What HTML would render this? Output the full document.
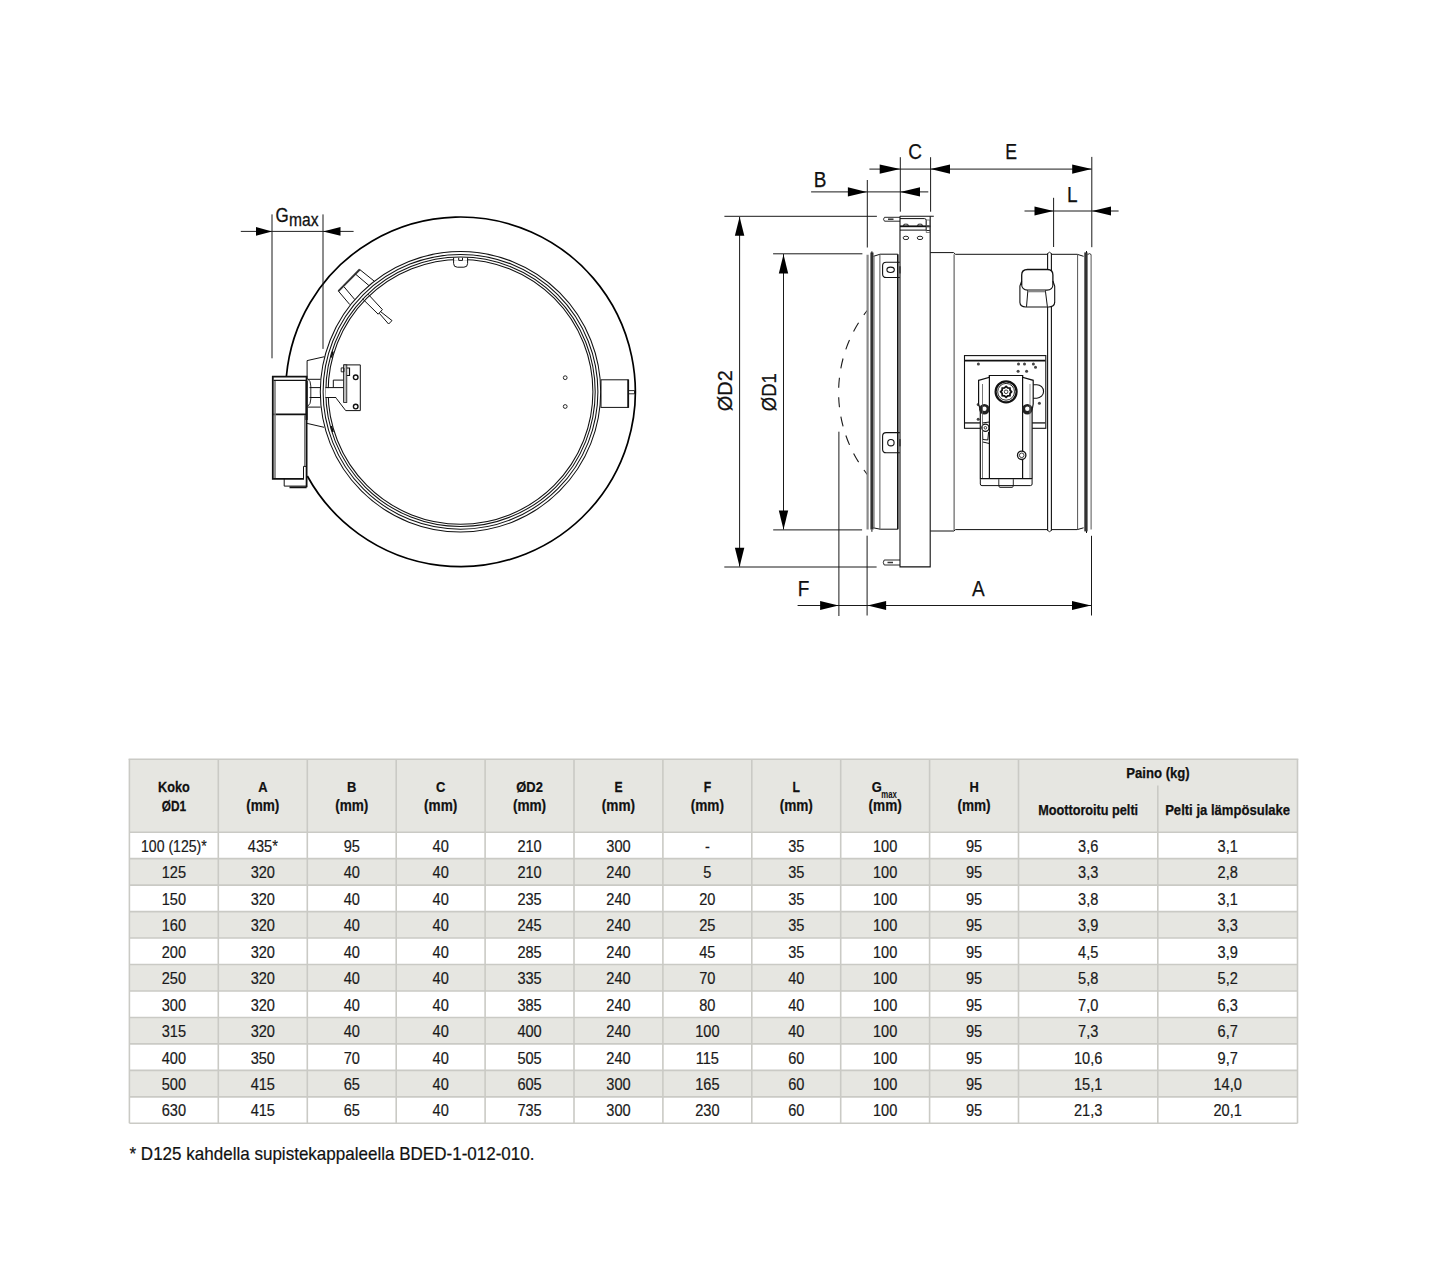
<!DOCTYPE html><html><head><meta charset="utf-8"><style>html,body{margin:0;padding:0;background:#fff;width:1440px;height:1269px;overflow:hidden}svg{display:block}text{font-family:"Liberation Sans",sans-serif}</style></head><body>
<svg width="1440" height="1269" viewBox="0 0 1440 1269">
<rect x="129.4" y="759.2" width="1168.1" height="73.0" fill="#e6e6e1"/>
<rect x="129.4" y="858.66" width="1168.1" height="26.46" fill="#e6e6e1"/>
<rect x="129.4" y="911.59" width="1168.1" height="26.46" fill="#e6e6e1"/>
<rect x="129.4" y="964.52" width="1168.1" height="26.46" fill="#e6e6e1"/>
<rect x="129.4" y="1017.45" width="1168.1" height="26.46" fill="#e6e6e1"/>
<rect x="129.4" y="1070.37" width="1168.1" height="26.46" fill="#e6e6e1"/>
<line x1="129.4" y1="832.2" x2="1297.5" y2="832.2" stroke="#cacac5" stroke-width="1.6"/>
<line x1="129.4" y1="858.66" x2="1297.5" y2="858.66" stroke="#cacac5" stroke-width="1.6"/>
<line x1="129.4" y1="885.13" x2="1297.5" y2="885.13" stroke="#cacac5" stroke-width="1.6"/>
<line x1="129.4" y1="911.59" x2="1297.5" y2="911.59" stroke="#cacac5" stroke-width="1.6"/>
<line x1="129.4" y1="938.05" x2="1297.5" y2="938.05" stroke="#cacac5" stroke-width="1.6"/>
<line x1="129.4" y1="964.52" x2="1297.5" y2="964.52" stroke="#cacac5" stroke-width="1.6"/>
<line x1="129.4" y1="990.98" x2="1297.5" y2="990.98" stroke="#cacac5" stroke-width="1.6"/>
<line x1="129.4" y1="1017.45" x2="1297.5" y2="1017.45" stroke="#cacac5" stroke-width="1.6"/>
<line x1="129.4" y1="1043.91" x2="1297.5" y2="1043.91" stroke="#cacac5" stroke-width="1.6"/>
<line x1="129.4" y1="1070.37" x2="1297.5" y2="1070.37" stroke="#cacac5" stroke-width="1.6"/>
<line x1="129.4" y1="1096.84" x2="1297.5" y2="1096.84" stroke="#cacac5" stroke-width="1.6"/>
<line x1="129.4" y1="1123.3" x2="1297.5" y2="1123.3" stroke="#cacac5" stroke-width="1.6"/>
<line x1="128.6" y1="759.2" x2="1298.3" y2="759.2" stroke="#cacac5" stroke-width="1.6"/>
<line x1="129.4" y1="759.2" x2="129.4" y2="1123.3" stroke="#cacac5" stroke-width="1.6"/>
<line x1="218.3" y1="759.2" x2="218.3" y2="1123.3" stroke="#cacac5" stroke-width="1.6"/>
<line x1="307.3" y1="759.2" x2="307.3" y2="1123.3" stroke="#cacac5" stroke-width="1.6"/>
<line x1="396.2" y1="759.2" x2="396.2" y2="1123.3" stroke="#cacac5" stroke-width="1.6"/>
<line x1="485.1" y1="759.2" x2="485.1" y2="1123.3" stroke="#cacac5" stroke-width="1.6"/>
<line x1="574.0" y1="759.2" x2="574.0" y2="1123.3" stroke="#cacac5" stroke-width="1.6"/>
<line x1="662.9" y1="759.2" x2="662.9" y2="1123.3" stroke="#cacac5" stroke-width="1.6"/>
<line x1="751.8" y1="759.2" x2="751.8" y2="1123.3" stroke="#cacac5" stroke-width="1.6"/>
<line x1="840.7" y1="759.2" x2="840.7" y2="1123.3" stroke="#cacac5" stroke-width="1.6"/>
<line x1="929.6" y1="759.2" x2="929.6" y2="1123.3" stroke="#cacac5" stroke-width="1.6"/>
<line x1="1018.5" y1="759.2" x2="1018.5" y2="1123.3" stroke="#cacac5" stroke-width="1.6"/>
<line x1="1157.8" y1="785.5" x2="1157.8" y2="1123.3" stroke="#cacac5" stroke-width="1.6"/>
<line x1="1297.5" y1="759.2" x2="1297.5" y2="1123.3" stroke="#cacac5" stroke-width="1.6"/>
<text transform="translate(173.85,792) scale(0.82,1)" x="0" y="0" font-size="15.5" text-anchor="middle" font-weight="bold" fill="#111" stroke="#111" stroke-width="0.25">Koko</text>
<text transform="translate(173.85,810.6) scale(0.78,1)" x="0" y="0" font-size="15.2" text-anchor="middle" font-weight="bold" fill="#111" stroke="#111" stroke-width="0.25">ØD1</text>
<text transform="translate(262.80,792) scale(0.85,1)" x="0" y="0" font-size="15.2" text-anchor="middle" font-weight="bold" fill="#111" stroke="#111" stroke-width="0.25">A</text>
<text transform="translate(262.80,810.6) scale(0.85,1)" x="0" y="0" font-size="16" text-anchor="middle" font-weight="bold" fill="#111" stroke="#111" stroke-width="0.25">(mm)</text>
<text transform="translate(351.75,792) scale(0.85,1)" x="0" y="0" font-size="15.2" text-anchor="middle" font-weight="bold" fill="#111" stroke="#111" stroke-width="0.25">B</text>
<text transform="translate(351.75,810.6) scale(0.85,1)" x="0" y="0" font-size="16" text-anchor="middle" font-weight="bold" fill="#111" stroke="#111" stroke-width="0.25">(mm)</text>
<text transform="translate(440.65,792) scale(0.85,1)" x="0" y="0" font-size="15.2" text-anchor="middle" font-weight="bold" fill="#111" stroke="#111" stroke-width="0.25">C</text>
<text transform="translate(440.65,810.6) scale(0.85,1)" x="0" y="0" font-size="16" text-anchor="middle" font-weight="bold" fill="#111" stroke="#111" stroke-width="0.25">(mm)</text>
<text transform="translate(529.55,792) scale(0.85,1)" x="0" y="0" font-size="15.2" text-anchor="middle" font-weight="bold" fill="#111" stroke="#111" stroke-width="0.25">ØD2</text>
<text transform="translate(529.55,810.6) scale(0.85,1)" x="0" y="0" font-size="16" text-anchor="middle" font-weight="bold" fill="#111" stroke="#111" stroke-width="0.25">(mm)</text>
<text transform="translate(618.45,792) scale(0.8,1)" x="0" y="0" font-size="15.2" text-anchor="middle" font-weight="bold" fill="#111" stroke="#111" stroke-width="0.25">E</text>
<text transform="translate(618.45,810.6) scale(0.85,1)" x="0" y="0" font-size="16" text-anchor="middle" font-weight="bold" fill="#111" stroke="#111" stroke-width="0.25">(mm)</text>
<text transform="translate(707.35,792) scale(0.8,1)" x="0" y="0" font-size="15.2" text-anchor="middle" font-weight="bold" fill="#111" stroke="#111" stroke-width="0.25">F</text>
<text transform="translate(707.35,810.6) scale(0.85,1)" x="0" y="0" font-size="16" text-anchor="middle" font-weight="bold" fill="#111" stroke="#111" stroke-width="0.25">(mm)</text>
<text transform="translate(796.25,792) scale(0.8,1)" x="0" y="0" font-size="15.2" text-anchor="middle" font-weight="bold" fill="#111" stroke="#111" stroke-width="0.25">L</text>
<text transform="translate(796.25,810.6) scale(0.85,1)" x="0" y="0" font-size="16" text-anchor="middle" font-weight="bold" fill="#111" stroke="#111" stroke-width="0.25">(mm)</text>
<text transform="translate(871.85,792) scale(0.85,1)" x="0" y="0" font-size="15.2" font-weight="bold" fill="#111" stroke="#111" stroke-width="0.25">G</text>
<text x="881.25" y="797.6" font-size="10.5" font-weight="bold" fill="#111" textLength="15.6" lengthAdjust="spacingAndGlyphs">max</text>
<text transform="translate(885.15,810.6) scale(0.85,1)" x="0" y="0" font-size="16" text-anchor="middle" font-weight="bold" fill="#111" stroke="#111" stroke-width="0.25">(mm)</text>
<text transform="translate(974.05,792) scale(0.85,1)" x="0" y="0" font-size="15.2" text-anchor="middle" font-weight="bold" fill="#111" stroke="#111" stroke-width="0.25">H</text>
<text transform="translate(974.05,810.6) scale(0.85,1)" x="0" y="0" font-size="16" text-anchor="middle" font-weight="bold" fill="#111" stroke="#111" stroke-width="0.25">(mm)</text>
<text x="1158.0" y="777.6" font-size="15.5" text-anchor="middle" font-weight="bold" fill="#111" textLength="63.5" lengthAdjust="spacingAndGlyphs" stroke="#111" stroke-width="0.25">Paino (kg)</text>
<text x="1088.15" y="814.6" font-size="15.5" text-anchor="middle" font-weight="bold" fill="#111" textLength="100" lengthAdjust="spacingAndGlyphs" stroke="#111" stroke-width="0.25">Moottoroitu pelti</text>
<text x="1227.65" y="814.6" font-size="15.5" text-anchor="middle" font-weight="bold" fill="#111" textLength="125" lengthAdjust="spacingAndGlyphs" stroke="#111" stroke-width="0.25">Pelti ja lämpösulake</text>
<text transform="translate(173.85,851.8) scale(0.87,1)" x="0" y="0" font-size="16.2" text-anchor="middle" font-weight="normal" fill="#1a1a1a" stroke="#1a1a1a" stroke-width="0.2">100 (125)*</text>
<text transform="translate(262.80,851.8) scale(0.9,1)" x="0" y="0" font-size="16.2" text-anchor="middle" font-weight="normal" fill="#1a1a1a" stroke="#1a1a1a" stroke-width="0.2">435*</text>
<text transform="translate(351.75,851.8) scale(0.9,1)" x="0" y="0" font-size="16.2" text-anchor="middle" font-weight="normal" fill="#1a1a1a" stroke="#1a1a1a" stroke-width="0.2">95</text>
<text transform="translate(440.65,851.8) scale(0.9,1)" x="0" y="0" font-size="16.2" text-anchor="middle" font-weight="normal" fill="#1a1a1a" stroke="#1a1a1a" stroke-width="0.2">40</text>
<text transform="translate(529.55,851.8) scale(0.9,1)" x="0" y="0" font-size="16.2" text-anchor="middle" font-weight="normal" fill="#1a1a1a" stroke="#1a1a1a" stroke-width="0.2">210</text>
<text transform="translate(618.45,851.8) scale(0.9,1)" x="0" y="0" font-size="16.2" text-anchor="middle" font-weight="normal" fill="#1a1a1a" stroke="#1a1a1a" stroke-width="0.2">300</text>
<text transform="translate(707.35,851.8) scale(0.9,1)" x="0" y="0" font-size="16.2" text-anchor="middle" font-weight="normal" fill="#1a1a1a" stroke="#1a1a1a" stroke-width="0.2">-</text>
<text transform="translate(796.25,851.8) scale(0.9,1)" x="0" y="0" font-size="16.2" text-anchor="middle" font-weight="normal" fill="#1a1a1a" stroke="#1a1a1a" stroke-width="0.2">35</text>
<text transform="translate(885.15,851.8) scale(0.9,1)" x="0" y="0" font-size="16.2" text-anchor="middle" font-weight="normal" fill="#1a1a1a" stroke="#1a1a1a" stroke-width="0.2">100</text>
<text transform="translate(974.05,851.8) scale(0.9,1)" x="0" y="0" font-size="16.2" text-anchor="middle" font-weight="normal" fill="#1a1a1a" stroke="#1a1a1a" stroke-width="0.2">95</text>
<text transform="translate(1088.15,851.8) scale(0.9,1)" x="0" y="0" font-size="16.2" text-anchor="middle" font-weight="normal" fill="#1a1a1a" stroke="#1a1a1a" stroke-width="0.2">3,6</text>
<text transform="translate(1227.65,851.8) scale(0.9,1)" x="0" y="0" font-size="16.2" text-anchor="middle" font-weight="normal" fill="#1a1a1a" stroke="#1a1a1a" stroke-width="0.2">3,1</text>
<text transform="translate(173.85,878.26) scale(0.9,1)" x="0" y="0" font-size="16.2" text-anchor="middle" font-weight="normal" fill="#1a1a1a" stroke="#1a1a1a" stroke-width="0.2">125</text>
<text transform="translate(262.80,878.26) scale(0.9,1)" x="0" y="0" font-size="16.2" text-anchor="middle" font-weight="normal" fill="#1a1a1a" stroke="#1a1a1a" stroke-width="0.2">320</text>
<text transform="translate(351.75,878.26) scale(0.9,1)" x="0" y="0" font-size="16.2" text-anchor="middle" font-weight="normal" fill="#1a1a1a" stroke="#1a1a1a" stroke-width="0.2">40</text>
<text transform="translate(440.65,878.26) scale(0.9,1)" x="0" y="0" font-size="16.2" text-anchor="middle" font-weight="normal" fill="#1a1a1a" stroke="#1a1a1a" stroke-width="0.2">40</text>
<text transform="translate(529.55,878.26) scale(0.9,1)" x="0" y="0" font-size="16.2" text-anchor="middle" font-weight="normal" fill="#1a1a1a" stroke="#1a1a1a" stroke-width="0.2">210</text>
<text transform="translate(618.45,878.26) scale(0.9,1)" x="0" y="0" font-size="16.2" text-anchor="middle" font-weight="normal" fill="#1a1a1a" stroke="#1a1a1a" stroke-width="0.2">240</text>
<text transform="translate(707.35,878.26) scale(0.9,1)" x="0" y="0" font-size="16.2" text-anchor="middle" font-weight="normal" fill="#1a1a1a" stroke="#1a1a1a" stroke-width="0.2">5</text>
<text transform="translate(796.25,878.26) scale(0.9,1)" x="0" y="0" font-size="16.2" text-anchor="middle" font-weight="normal" fill="#1a1a1a" stroke="#1a1a1a" stroke-width="0.2">35</text>
<text transform="translate(885.15,878.26) scale(0.9,1)" x="0" y="0" font-size="16.2" text-anchor="middle" font-weight="normal" fill="#1a1a1a" stroke="#1a1a1a" stroke-width="0.2">100</text>
<text transform="translate(974.05,878.26) scale(0.9,1)" x="0" y="0" font-size="16.2" text-anchor="middle" font-weight="normal" fill="#1a1a1a" stroke="#1a1a1a" stroke-width="0.2">95</text>
<text transform="translate(1088.15,878.26) scale(0.9,1)" x="0" y="0" font-size="16.2" text-anchor="middle" font-weight="normal" fill="#1a1a1a" stroke="#1a1a1a" stroke-width="0.2">3,3</text>
<text transform="translate(1227.65,878.26) scale(0.9,1)" x="0" y="0" font-size="16.2" text-anchor="middle" font-weight="normal" fill="#1a1a1a" stroke="#1a1a1a" stroke-width="0.2">2,8</text>
<text transform="translate(173.85,904.73) scale(0.9,1)" x="0" y="0" font-size="16.2" text-anchor="middle" font-weight="normal" fill="#1a1a1a" stroke="#1a1a1a" stroke-width="0.2">150</text>
<text transform="translate(262.80,904.73) scale(0.9,1)" x="0" y="0" font-size="16.2" text-anchor="middle" font-weight="normal" fill="#1a1a1a" stroke="#1a1a1a" stroke-width="0.2">320</text>
<text transform="translate(351.75,904.73) scale(0.9,1)" x="0" y="0" font-size="16.2" text-anchor="middle" font-weight="normal" fill="#1a1a1a" stroke="#1a1a1a" stroke-width="0.2">40</text>
<text transform="translate(440.65,904.73) scale(0.9,1)" x="0" y="0" font-size="16.2" text-anchor="middle" font-weight="normal" fill="#1a1a1a" stroke="#1a1a1a" stroke-width="0.2">40</text>
<text transform="translate(529.55,904.73) scale(0.9,1)" x="0" y="0" font-size="16.2" text-anchor="middle" font-weight="normal" fill="#1a1a1a" stroke="#1a1a1a" stroke-width="0.2">235</text>
<text transform="translate(618.45,904.73) scale(0.9,1)" x="0" y="0" font-size="16.2" text-anchor="middle" font-weight="normal" fill="#1a1a1a" stroke="#1a1a1a" stroke-width="0.2">240</text>
<text transform="translate(707.35,904.73) scale(0.9,1)" x="0" y="0" font-size="16.2" text-anchor="middle" font-weight="normal" fill="#1a1a1a" stroke="#1a1a1a" stroke-width="0.2">20</text>
<text transform="translate(796.25,904.73) scale(0.9,1)" x="0" y="0" font-size="16.2" text-anchor="middle" font-weight="normal" fill="#1a1a1a" stroke="#1a1a1a" stroke-width="0.2">35</text>
<text transform="translate(885.15,904.73) scale(0.9,1)" x="0" y="0" font-size="16.2" text-anchor="middle" font-weight="normal" fill="#1a1a1a" stroke="#1a1a1a" stroke-width="0.2">100</text>
<text transform="translate(974.05,904.73) scale(0.9,1)" x="0" y="0" font-size="16.2" text-anchor="middle" font-weight="normal" fill="#1a1a1a" stroke="#1a1a1a" stroke-width="0.2">95</text>
<text transform="translate(1088.15,904.73) scale(0.9,1)" x="0" y="0" font-size="16.2" text-anchor="middle" font-weight="normal" fill="#1a1a1a" stroke="#1a1a1a" stroke-width="0.2">3,8</text>
<text transform="translate(1227.65,904.73) scale(0.9,1)" x="0" y="0" font-size="16.2" text-anchor="middle" font-weight="normal" fill="#1a1a1a" stroke="#1a1a1a" stroke-width="0.2">3,1</text>
<text transform="translate(173.85,931.19) scale(0.9,1)" x="0" y="0" font-size="16.2" text-anchor="middle" font-weight="normal" fill="#1a1a1a" stroke="#1a1a1a" stroke-width="0.2">160</text>
<text transform="translate(262.80,931.19) scale(0.9,1)" x="0" y="0" font-size="16.2" text-anchor="middle" font-weight="normal" fill="#1a1a1a" stroke="#1a1a1a" stroke-width="0.2">320</text>
<text transform="translate(351.75,931.19) scale(0.9,1)" x="0" y="0" font-size="16.2" text-anchor="middle" font-weight="normal" fill="#1a1a1a" stroke="#1a1a1a" stroke-width="0.2">40</text>
<text transform="translate(440.65,931.19) scale(0.9,1)" x="0" y="0" font-size="16.2" text-anchor="middle" font-weight="normal" fill="#1a1a1a" stroke="#1a1a1a" stroke-width="0.2">40</text>
<text transform="translate(529.55,931.19) scale(0.9,1)" x="0" y="0" font-size="16.2" text-anchor="middle" font-weight="normal" fill="#1a1a1a" stroke="#1a1a1a" stroke-width="0.2">245</text>
<text transform="translate(618.45,931.19) scale(0.9,1)" x="0" y="0" font-size="16.2" text-anchor="middle" font-weight="normal" fill="#1a1a1a" stroke="#1a1a1a" stroke-width="0.2">240</text>
<text transform="translate(707.35,931.19) scale(0.9,1)" x="0" y="0" font-size="16.2" text-anchor="middle" font-weight="normal" fill="#1a1a1a" stroke="#1a1a1a" stroke-width="0.2">25</text>
<text transform="translate(796.25,931.19) scale(0.9,1)" x="0" y="0" font-size="16.2" text-anchor="middle" font-weight="normal" fill="#1a1a1a" stroke="#1a1a1a" stroke-width="0.2">35</text>
<text transform="translate(885.15,931.19) scale(0.9,1)" x="0" y="0" font-size="16.2" text-anchor="middle" font-weight="normal" fill="#1a1a1a" stroke="#1a1a1a" stroke-width="0.2">100</text>
<text transform="translate(974.05,931.19) scale(0.9,1)" x="0" y="0" font-size="16.2" text-anchor="middle" font-weight="normal" fill="#1a1a1a" stroke="#1a1a1a" stroke-width="0.2">95</text>
<text transform="translate(1088.15,931.19) scale(0.9,1)" x="0" y="0" font-size="16.2" text-anchor="middle" font-weight="normal" fill="#1a1a1a" stroke="#1a1a1a" stroke-width="0.2">3,9</text>
<text transform="translate(1227.65,931.19) scale(0.9,1)" x="0" y="0" font-size="16.2" text-anchor="middle" font-weight="normal" fill="#1a1a1a" stroke="#1a1a1a" stroke-width="0.2">3,3</text>
<text transform="translate(173.85,957.65) scale(0.9,1)" x="0" y="0" font-size="16.2" text-anchor="middle" font-weight="normal" fill="#1a1a1a" stroke="#1a1a1a" stroke-width="0.2">200</text>
<text transform="translate(262.80,957.65) scale(0.9,1)" x="0" y="0" font-size="16.2" text-anchor="middle" font-weight="normal" fill="#1a1a1a" stroke="#1a1a1a" stroke-width="0.2">320</text>
<text transform="translate(351.75,957.65) scale(0.9,1)" x="0" y="0" font-size="16.2" text-anchor="middle" font-weight="normal" fill="#1a1a1a" stroke="#1a1a1a" stroke-width="0.2">40</text>
<text transform="translate(440.65,957.65) scale(0.9,1)" x="0" y="0" font-size="16.2" text-anchor="middle" font-weight="normal" fill="#1a1a1a" stroke="#1a1a1a" stroke-width="0.2">40</text>
<text transform="translate(529.55,957.65) scale(0.9,1)" x="0" y="0" font-size="16.2" text-anchor="middle" font-weight="normal" fill="#1a1a1a" stroke="#1a1a1a" stroke-width="0.2">285</text>
<text transform="translate(618.45,957.65) scale(0.9,1)" x="0" y="0" font-size="16.2" text-anchor="middle" font-weight="normal" fill="#1a1a1a" stroke="#1a1a1a" stroke-width="0.2">240</text>
<text transform="translate(707.35,957.65) scale(0.9,1)" x="0" y="0" font-size="16.2" text-anchor="middle" font-weight="normal" fill="#1a1a1a" stroke="#1a1a1a" stroke-width="0.2">45</text>
<text transform="translate(796.25,957.65) scale(0.9,1)" x="0" y="0" font-size="16.2" text-anchor="middle" font-weight="normal" fill="#1a1a1a" stroke="#1a1a1a" stroke-width="0.2">35</text>
<text transform="translate(885.15,957.65) scale(0.9,1)" x="0" y="0" font-size="16.2" text-anchor="middle" font-weight="normal" fill="#1a1a1a" stroke="#1a1a1a" stroke-width="0.2">100</text>
<text transform="translate(974.05,957.65) scale(0.9,1)" x="0" y="0" font-size="16.2" text-anchor="middle" font-weight="normal" fill="#1a1a1a" stroke="#1a1a1a" stroke-width="0.2">95</text>
<text transform="translate(1088.15,957.65) scale(0.9,1)" x="0" y="0" font-size="16.2" text-anchor="middle" font-weight="normal" fill="#1a1a1a" stroke="#1a1a1a" stroke-width="0.2">4,5</text>
<text transform="translate(1227.65,957.65) scale(0.9,1)" x="0" y="0" font-size="16.2" text-anchor="middle" font-weight="normal" fill="#1a1a1a" stroke="#1a1a1a" stroke-width="0.2">3,9</text>
<text transform="translate(173.85,984.12) scale(0.9,1)" x="0" y="0" font-size="16.2" text-anchor="middle" font-weight="normal" fill="#1a1a1a" stroke="#1a1a1a" stroke-width="0.2">250</text>
<text transform="translate(262.80,984.12) scale(0.9,1)" x="0" y="0" font-size="16.2" text-anchor="middle" font-weight="normal" fill="#1a1a1a" stroke="#1a1a1a" stroke-width="0.2">320</text>
<text transform="translate(351.75,984.12) scale(0.9,1)" x="0" y="0" font-size="16.2" text-anchor="middle" font-weight="normal" fill="#1a1a1a" stroke="#1a1a1a" stroke-width="0.2">40</text>
<text transform="translate(440.65,984.12) scale(0.9,1)" x="0" y="0" font-size="16.2" text-anchor="middle" font-weight="normal" fill="#1a1a1a" stroke="#1a1a1a" stroke-width="0.2">40</text>
<text transform="translate(529.55,984.12) scale(0.9,1)" x="0" y="0" font-size="16.2" text-anchor="middle" font-weight="normal" fill="#1a1a1a" stroke="#1a1a1a" stroke-width="0.2">335</text>
<text transform="translate(618.45,984.12) scale(0.9,1)" x="0" y="0" font-size="16.2" text-anchor="middle" font-weight="normal" fill="#1a1a1a" stroke="#1a1a1a" stroke-width="0.2">240</text>
<text transform="translate(707.35,984.12) scale(0.9,1)" x="0" y="0" font-size="16.2" text-anchor="middle" font-weight="normal" fill="#1a1a1a" stroke="#1a1a1a" stroke-width="0.2">70</text>
<text transform="translate(796.25,984.12) scale(0.9,1)" x="0" y="0" font-size="16.2" text-anchor="middle" font-weight="normal" fill="#1a1a1a" stroke="#1a1a1a" stroke-width="0.2">40</text>
<text transform="translate(885.15,984.12) scale(0.9,1)" x="0" y="0" font-size="16.2" text-anchor="middle" font-weight="normal" fill="#1a1a1a" stroke="#1a1a1a" stroke-width="0.2">100</text>
<text transform="translate(974.05,984.12) scale(0.9,1)" x="0" y="0" font-size="16.2" text-anchor="middle" font-weight="normal" fill="#1a1a1a" stroke="#1a1a1a" stroke-width="0.2">95</text>
<text transform="translate(1088.15,984.12) scale(0.9,1)" x="0" y="0" font-size="16.2" text-anchor="middle" font-weight="normal" fill="#1a1a1a" stroke="#1a1a1a" stroke-width="0.2">5,8</text>
<text transform="translate(1227.65,984.12) scale(0.9,1)" x="0" y="0" font-size="16.2" text-anchor="middle" font-weight="normal" fill="#1a1a1a" stroke="#1a1a1a" stroke-width="0.2">5,2</text>
<text transform="translate(173.85,1010.58) scale(0.9,1)" x="0" y="0" font-size="16.2" text-anchor="middle" font-weight="normal" fill="#1a1a1a" stroke="#1a1a1a" stroke-width="0.2">300</text>
<text transform="translate(262.80,1010.58) scale(0.9,1)" x="0" y="0" font-size="16.2" text-anchor="middle" font-weight="normal" fill="#1a1a1a" stroke="#1a1a1a" stroke-width="0.2">320</text>
<text transform="translate(351.75,1010.58) scale(0.9,1)" x="0" y="0" font-size="16.2" text-anchor="middle" font-weight="normal" fill="#1a1a1a" stroke="#1a1a1a" stroke-width="0.2">40</text>
<text transform="translate(440.65,1010.58) scale(0.9,1)" x="0" y="0" font-size="16.2" text-anchor="middle" font-weight="normal" fill="#1a1a1a" stroke="#1a1a1a" stroke-width="0.2">40</text>
<text transform="translate(529.55,1010.58) scale(0.9,1)" x="0" y="0" font-size="16.2" text-anchor="middle" font-weight="normal" fill="#1a1a1a" stroke="#1a1a1a" stroke-width="0.2">385</text>
<text transform="translate(618.45,1010.58) scale(0.9,1)" x="0" y="0" font-size="16.2" text-anchor="middle" font-weight="normal" fill="#1a1a1a" stroke="#1a1a1a" stroke-width="0.2">240</text>
<text transform="translate(707.35,1010.58) scale(0.9,1)" x="0" y="0" font-size="16.2" text-anchor="middle" font-weight="normal" fill="#1a1a1a" stroke="#1a1a1a" stroke-width="0.2">80</text>
<text transform="translate(796.25,1010.58) scale(0.9,1)" x="0" y="0" font-size="16.2" text-anchor="middle" font-weight="normal" fill="#1a1a1a" stroke="#1a1a1a" stroke-width="0.2">40</text>
<text transform="translate(885.15,1010.58) scale(0.9,1)" x="0" y="0" font-size="16.2" text-anchor="middle" font-weight="normal" fill="#1a1a1a" stroke="#1a1a1a" stroke-width="0.2">100</text>
<text transform="translate(974.05,1010.58) scale(0.9,1)" x="0" y="0" font-size="16.2" text-anchor="middle" font-weight="normal" fill="#1a1a1a" stroke="#1a1a1a" stroke-width="0.2">95</text>
<text transform="translate(1088.15,1010.58) scale(0.9,1)" x="0" y="0" font-size="16.2" text-anchor="middle" font-weight="normal" fill="#1a1a1a" stroke="#1a1a1a" stroke-width="0.2">7,0</text>
<text transform="translate(1227.65,1010.58) scale(0.9,1)" x="0" y="0" font-size="16.2" text-anchor="middle" font-weight="normal" fill="#1a1a1a" stroke="#1a1a1a" stroke-width="0.2">6,3</text>
<text transform="translate(173.85,1037.05) scale(0.9,1)" x="0" y="0" font-size="16.2" text-anchor="middle" font-weight="normal" fill="#1a1a1a" stroke="#1a1a1a" stroke-width="0.2">315</text>
<text transform="translate(262.80,1037.05) scale(0.9,1)" x="0" y="0" font-size="16.2" text-anchor="middle" font-weight="normal" fill="#1a1a1a" stroke="#1a1a1a" stroke-width="0.2">320</text>
<text transform="translate(351.75,1037.05) scale(0.9,1)" x="0" y="0" font-size="16.2" text-anchor="middle" font-weight="normal" fill="#1a1a1a" stroke="#1a1a1a" stroke-width="0.2">40</text>
<text transform="translate(440.65,1037.05) scale(0.9,1)" x="0" y="0" font-size="16.2" text-anchor="middle" font-weight="normal" fill="#1a1a1a" stroke="#1a1a1a" stroke-width="0.2">40</text>
<text transform="translate(529.55,1037.05) scale(0.9,1)" x="0" y="0" font-size="16.2" text-anchor="middle" font-weight="normal" fill="#1a1a1a" stroke="#1a1a1a" stroke-width="0.2">400</text>
<text transform="translate(618.45,1037.05) scale(0.9,1)" x="0" y="0" font-size="16.2" text-anchor="middle" font-weight="normal" fill="#1a1a1a" stroke="#1a1a1a" stroke-width="0.2">240</text>
<text transform="translate(707.35,1037.05) scale(0.9,1)" x="0" y="0" font-size="16.2" text-anchor="middle" font-weight="normal" fill="#1a1a1a" stroke="#1a1a1a" stroke-width="0.2">100</text>
<text transform="translate(796.25,1037.05) scale(0.9,1)" x="0" y="0" font-size="16.2" text-anchor="middle" font-weight="normal" fill="#1a1a1a" stroke="#1a1a1a" stroke-width="0.2">40</text>
<text transform="translate(885.15,1037.05) scale(0.9,1)" x="0" y="0" font-size="16.2" text-anchor="middle" font-weight="normal" fill="#1a1a1a" stroke="#1a1a1a" stroke-width="0.2">100</text>
<text transform="translate(974.05,1037.05) scale(0.9,1)" x="0" y="0" font-size="16.2" text-anchor="middle" font-weight="normal" fill="#1a1a1a" stroke="#1a1a1a" stroke-width="0.2">95</text>
<text transform="translate(1088.15,1037.05) scale(0.9,1)" x="0" y="0" font-size="16.2" text-anchor="middle" font-weight="normal" fill="#1a1a1a" stroke="#1a1a1a" stroke-width="0.2">7,3</text>
<text transform="translate(1227.65,1037.05) scale(0.9,1)" x="0" y="0" font-size="16.2" text-anchor="middle" font-weight="normal" fill="#1a1a1a" stroke="#1a1a1a" stroke-width="0.2">6,7</text>
<text transform="translate(173.85,1063.51) scale(0.9,1)" x="0" y="0" font-size="16.2" text-anchor="middle" font-weight="normal" fill="#1a1a1a" stroke="#1a1a1a" stroke-width="0.2">400</text>
<text transform="translate(262.80,1063.51) scale(0.9,1)" x="0" y="0" font-size="16.2" text-anchor="middle" font-weight="normal" fill="#1a1a1a" stroke="#1a1a1a" stroke-width="0.2">350</text>
<text transform="translate(351.75,1063.51) scale(0.9,1)" x="0" y="0" font-size="16.2" text-anchor="middle" font-weight="normal" fill="#1a1a1a" stroke="#1a1a1a" stroke-width="0.2">70</text>
<text transform="translate(440.65,1063.51) scale(0.9,1)" x="0" y="0" font-size="16.2" text-anchor="middle" font-weight="normal" fill="#1a1a1a" stroke="#1a1a1a" stroke-width="0.2">40</text>
<text transform="translate(529.55,1063.51) scale(0.9,1)" x="0" y="0" font-size="16.2" text-anchor="middle" font-weight="normal" fill="#1a1a1a" stroke="#1a1a1a" stroke-width="0.2">505</text>
<text transform="translate(618.45,1063.51) scale(0.9,1)" x="0" y="0" font-size="16.2" text-anchor="middle" font-weight="normal" fill="#1a1a1a" stroke="#1a1a1a" stroke-width="0.2">240</text>
<text transform="translate(707.35,1063.51) scale(0.9,1)" x="0" y="0" font-size="16.2" text-anchor="middle" font-weight="normal" fill="#1a1a1a" stroke="#1a1a1a" stroke-width="0.2">115</text>
<text transform="translate(796.25,1063.51) scale(0.9,1)" x="0" y="0" font-size="16.2" text-anchor="middle" font-weight="normal" fill="#1a1a1a" stroke="#1a1a1a" stroke-width="0.2">60</text>
<text transform="translate(885.15,1063.51) scale(0.9,1)" x="0" y="0" font-size="16.2" text-anchor="middle" font-weight="normal" fill="#1a1a1a" stroke="#1a1a1a" stroke-width="0.2">100</text>
<text transform="translate(974.05,1063.51) scale(0.9,1)" x="0" y="0" font-size="16.2" text-anchor="middle" font-weight="normal" fill="#1a1a1a" stroke="#1a1a1a" stroke-width="0.2">95</text>
<text transform="translate(1088.15,1063.51) scale(0.9,1)" x="0" y="0" font-size="16.2" text-anchor="middle" font-weight="normal" fill="#1a1a1a" stroke="#1a1a1a" stroke-width="0.2">10,6</text>
<text transform="translate(1227.65,1063.51) scale(0.9,1)" x="0" y="0" font-size="16.2" text-anchor="middle" font-weight="normal" fill="#1a1a1a" stroke="#1a1a1a" stroke-width="0.2">9,7</text>
<text transform="translate(173.85,1089.97) scale(0.9,1)" x="0" y="0" font-size="16.2" text-anchor="middle" font-weight="normal" fill="#1a1a1a" stroke="#1a1a1a" stroke-width="0.2">500</text>
<text transform="translate(262.80,1089.97) scale(0.9,1)" x="0" y="0" font-size="16.2" text-anchor="middle" font-weight="normal" fill="#1a1a1a" stroke="#1a1a1a" stroke-width="0.2">415</text>
<text transform="translate(351.75,1089.97) scale(0.9,1)" x="0" y="0" font-size="16.2" text-anchor="middle" font-weight="normal" fill="#1a1a1a" stroke="#1a1a1a" stroke-width="0.2">65</text>
<text transform="translate(440.65,1089.97) scale(0.9,1)" x="0" y="0" font-size="16.2" text-anchor="middle" font-weight="normal" fill="#1a1a1a" stroke="#1a1a1a" stroke-width="0.2">40</text>
<text transform="translate(529.55,1089.97) scale(0.9,1)" x="0" y="0" font-size="16.2" text-anchor="middle" font-weight="normal" fill="#1a1a1a" stroke="#1a1a1a" stroke-width="0.2">605</text>
<text transform="translate(618.45,1089.97) scale(0.9,1)" x="0" y="0" font-size="16.2" text-anchor="middle" font-weight="normal" fill="#1a1a1a" stroke="#1a1a1a" stroke-width="0.2">300</text>
<text transform="translate(707.35,1089.97) scale(0.9,1)" x="0" y="0" font-size="16.2" text-anchor="middle" font-weight="normal" fill="#1a1a1a" stroke="#1a1a1a" stroke-width="0.2">165</text>
<text transform="translate(796.25,1089.97) scale(0.9,1)" x="0" y="0" font-size="16.2" text-anchor="middle" font-weight="normal" fill="#1a1a1a" stroke="#1a1a1a" stroke-width="0.2">60</text>
<text transform="translate(885.15,1089.97) scale(0.9,1)" x="0" y="0" font-size="16.2" text-anchor="middle" font-weight="normal" fill="#1a1a1a" stroke="#1a1a1a" stroke-width="0.2">100</text>
<text transform="translate(974.05,1089.97) scale(0.9,1)" x="0" y="0" font-size="16.2" text-anchor="middle" font-weight="normal" fill="#1a1a1a" stroke="#1a1a1a" stroke-width="0.2">95</text>
<text transform="translate(1088.15,1089.97) scale(0.9,1)" x="0" y="0" font-size="16.2" text-anchor="middle" font-weight="normal" fill="#1a1a1a" stroke="#1a1a1a" stroke-width="0.2">15,1</text>
<text transform="translate(1227.65,1089.97) scale(0.9,1)" x="0" y="0" font-size="16.2" text-anchor="middle" font-weight="normal" fill="#1a1a1a" stroke="#1a1a1a" stroke-width="0.2">14,0</text>
<text transform="translate(173.85,1116.44) scale(0.9,1)" x="0" y="0" font-size="16.2" text-anchor="middle" font-weight="normal" fill="#1a1a1a" stroke="#1a1a1a" stroke-width="0.2">630</text>
<text transform="translate(262.80,1116.44) scale(0.9,1)" x="0" y="0" font-size="16.2" text-anchor="middle" font-weight="normal" fill="#1a1a1a" stroke="#1a1a1a" stroke-width="0.2">415</text>
<text transform="translate(351.75,1116.44) scale(0.9,1)" x="0" y="0" font-size="16.2" text-anchor="middle" font-weight="normal" fill="#1a1a1a" stroke="#1a1a1a" stroke-width="0.2">65</text>
<text transform="translate(440.65,1116.44) scale(0.9,1)" x="0" y="0" font-size="16.2" text-anchor="middle" font-weight="normal" fill="#1a1a1a" stroke="#1a1a1a" stroke-width="0.2">40</text>
<text transform="translate(529.55,1116.44) scale(0.9,1)" x="0" y="0" font-size="16.2" text-anchor="middle" font-weight="normal" fill="#1a1a1a" stroke="#1a1a1a" stroke-width="0.2">735</text>
<text transform="translate(618.45,1116.44) scale(0.9,1)" x="0" y="0" font-size="16.2" text-anchor="middle" font-weight="normal" fill="#1a1a1a" stroke="#1a1a1a" stroke-width="0.2">300</text>
<text transform="translate(707.35,1116.44) scale(0.9,1)" x="0" y="0" font-size="16.2" text-anchor="middle" font-weight="normal" fill="#1a1a1a" stroke="#1a1a1a" stroke-width="0.2">230</text>
<text transform="translate(796.25,1116.44) scale(0.9,1)" x="0" y="0" font-size="16.2" text-anchor="middle" font-weight="normal" fill="#1a1a1a" stroke="#1a1a1a" stroke-width="0.2">60</text>
<text transform="translate(885.15,1116.44) scale(0.9,1)" x="0" y="0" font-size="16.2" text-anchor="middle" font-weight="normal" fill="#1a1a1a" stroke="#1a1a1a" stroke-width="0.2">100</text>
<text transform="translate(974.05,1116.44) scale(0.9,1)" x="0" y="0" font-size="16.2" text-anchor="middle" font-weight="normal" fill="#1a1a1a" stroke="#1a1a1a" stroke-width="0.2">95</text>
<text transform="translate(1088.15,1116.44) scale(0.9,1)" x="0" y="0" font-size="16.2" text-anchor="middle" font-weight="normal" fill="#1a1a1a" stroke="#1a1a1a" stroke-width="0.2">21,3</text>
<text transform="translate(1227.65,1116.44) scale(0.9,1)" x="0" y="0" font-size="16.2" text-anchor="middle" font-weight="normal" fill="#1a1a1a" stroke="#1a1a1a" stroke-width="0.2">20,1</text>
<text x="129.5" y="1159.6" font-size="18.4" text-anchor="start" font-weight="normal" fill="#111" textLength="405" lengthAdjust="spacingAndGlyphs" stroke="#111" stroke-width="0.2">* D125 kahdella supistekappaleella BDED-1-012-010.</text>
<g>
<path d="M286.42,376.00 A174.8,174.8 0 1 1 307.30,475.97" stroke="#000" stroke-width="1.7" fill="none" />
<circle cx="460.5" cy="391.8" r="140.2" fill="none" stroke="#111" stroke-width="1.05"/>
<circle cx="460.5" cy="391.8" r="137.4" fill="none" stroke="#111" stroke-width="1.05"/>
<circle cx="460.5" cy="391.8" r="134.7" fill="none" stroke="#111" stroke-width="1.05"/>
<circle cx="460.5" cy="391.8" r="132.4" fill="none" stroke="#111" stroke-width="1.05"/>
<rect x="453.6" y="258.2" width="13.8" height="2" fill="#fff"/>
<path d="M453.6,257.6 L453.6,263.5 Q453.6,267.2 457.3,267.2 L463.9,267.2 Q467.6,267.2 467.6,263.5 L467.6,257.6" stroke="#111" stroke-width="1.0" fill="none" />
<path d="M458.7,257.8 L458.7,260.4 L462.5,260.4 L462.5,257.8" stroke="#111" stroke-width="1.0" fill="none" />
<rect x="601" y="379.8" width="27" height="27.6" fill="#fff" stroke="#111" stroke-width="1"/>
<line x1="628.3" y1="379.5" x2="628.3" y2="407.8" stroke="#111" stroke-width="1.6"/>
<path d="M628.6,390.6 L634.5,390.6 L634.5,393.8 L628.6,393.8" stroke="#111" stroke-width="0.9" fill="none" />
<circle cx="565.2" cy="377.7" r="1.9" fill="none" stroke="#111" stroke-width="0.9"/>
<circle cx="565.2" cy="406.5" r="1.9" fill="none" stroke="#111" stroke-width="0.9"/>
<line x1="272" y1="214.4" x2="272" y2="358.3" stroke="#1a1a1a" stroke-width="1.0"/>
<line x1="323" y1="214.4" x2="323" y2="348.9" stroke="#1a1a1a" stroke-width="1.0"/>
<line x1="240.8" y1="231.4" x2="353.6" y2="231.4" stroke="#222" stroke-width="1.0"/>
<polygon points="272.00,231.40 256.00,227.00 256.00,235.80" fill="#000"/>
<polygon points="323.00,231.40 340.50,227.00 340.50,235.80" fill="#000"/>
<text x="275.5" y="222.2" font-size="19.5" fill="#111" stroke="#111" stroke-width="0.3" textLength="13.2" lengthAdjust="spacingAndGlyphs">G</text>
<text x="289" y="226.1" font-size="19" fill="#111" stroke="#111" stroke-width="0.3" textLength="29.5" lengthAdjust="spacingAndGlyphs">max</text>
<path d="M307.1,378.8 L307.1,360.6 L324.5,356.7" stroke="#111" stroke-width="1.0" fill="none" />
<path d="M307.1,423.4 L324.1,427.3" stroke="#111" stroke-width="1.0" fill="none" />
<rect x="272.8" y="376.6" width="33.8" height="102.3" fill="#fff" stroke="none"/>
<path d="M303.5,478.9 L272.8,478.9 L272.8,376.6 L306.6,376.6 L306.6,487.2" stroke="#111" stroke-width="1.8" fill="none" />
<line x1="273.5" y1="380.4" x2="306" y2="380.4" stroke="#111" stroke-width="1.3"/>
<line x1="273.5" y1="414.4" x2="306" y2="414.4" stroke="#111" stroke-width="1.8"/>
<line x1="275.0" y1="381" x2="275.0" y2="478" stroke="#7a7a7a" stroke-width="1.6"/>
<line x1="304.8" y1="415" x2="304.8" y2="466" stroke="#7a7a7a" stroke-width="1.6"/>
<path d="M303.5,479.6 L303.5,466.4 L306.3,466.4" stroke="#111" stroke-width="1.0" fill="none" />
<path d="M284.2,478.9 L284.2,486.1 L306.3,486.1" stroke="#111" stroke-width="1.0" fill="none" />
<path d="M290.3,486.6 L290.3,487.4 L306.6,487.4" stroke="#111" stroke-width="1.6" fill="none" />
<line x1="307.8" y1="379.3" x2="320.6" y2="379.3" stroke="#111" stroke-width="1.0"/>
<line x1="309.5" y1="387.6" x2="320.6" y2="387.6" stroke="#111" stroke-width="1.0"/>
<line x1="309.5" y1="397.5" x2="320.6" y2="397.5" stroke="#111" stroke-width="1.0"/>
<line x1="307.8" y1="407.1" x2="320.6" y2="407.1" stroke="#111" stroke-width="1.0"/>
<path d="M307.5,378.5 Q311,381 310.8,386 L310.8,399 Q311,404 307.5,406.5" stroke="#111" stroke-width="0.9" fill="none" />
<line x1="306.6" y1="381" x2="306.6" y2="420" stroke="#111" stroke-width="2.2"/>
<rect x="325.6" y="388.1" width="18" height="8.9" fill="#fff"/>
<line x1="325.5" y1="387.6" x2="343.6" y2="387.6" stroke="#111" stroke-width="1.0"/>
<line x1="325.5" y1="397.5" x2="336.2" y2="397.5" stroke="#111" stroke-width="1.0"/>
<path d="M333.3,387.6 L333.3,380.1 L343.6,380.1" stroke="#111" stroke-width="1.0" fill="none" />
<path d="M343.6,364.9 L360.3,364.9 L360.3,410.6 L345.7,410.6 L336.2,398.2" stroke="#111" stroke-width="1.0" fill="none" />
<rect x="343.6" y="364.9" width="3.2" height="37.6" fill="#bbb" stroke="#111" stroke-width="0.8"/>
<path d="M341.2,367.9 L344,367.9 L344,371.8 L341.2,371.8 Z" stroke="#111" stroke-width="0.9" fill="none" />
<path d="M346.8,368 L349.5,368 L349.5,375.5 L346.8,375.5" stroke="#111" stroke-width="1.2" fill="none" />
<circle cx="355.7" cy="377.3" r="2.3" fill="none" stroke="#111" stroke-width="1.4"/>
<circle cx="355.7" cy="406.6" r="2.3" fill="none" stroke="#111" stroke-width="1.4"/>
<line x1="331.2" y1="357.5" x2="332.9" y2="351.5" stroke="#111" stroke-width="1.8"/>
<line x1="331.2" y1="426.1" x2="332.9" y2="432.1" stroke="#111" stroke-width="1.8"/>
<path d="M349.8,304.6 L338.4,291.1 L359.7,269.5 L374.3,281.2" stroke="#111" stroke-width="1.0" fill="none" />
<line x1="338.4" y1="291.1" x2="359.7" y2="269.5" stroke="#333" stroke-width="2.0"/>
<line x1="344.1" y1="286.9" x2="354.8" y2="299.6" stroke="#111" stroke-width="1.0"/>
<line x1="355.5" y1="274.1" x2="368.9" y2="285.5" stroke="#111" stroke-width="1.0"/>
<path d="M368.2,294.3 L382.4,309.6 L378.2,314.2 L362.6,298.9" stroke="#111" stroke-width="1.0" fill="none" />
<path d="M380.6,311.6 L392,320.6 L388.6,324 L379.3,313.3" stroke="#111" stroke-width="1.0" fill="none" />
<line x1="869.4" y1="169.1" x2="1091.7" y2="169.1" stroke="#1a1a1a" stroke-width="1.0"/>
<polygon points="900.20,169.10 879.70,164.50 879.70,173.70" fill="#000"/>
<polygon points="930.50,169.10 950.00,164.50 950.00,173.70" fill="#000"/>
<polygon points="1091.70,169.10 1072.20,164.50 1072.20,173.70" fill="#000"/>
<line x1="900.3" y1="157.2" x2="900.3" y2="211.7" stroke="#1a1a1a" stroke-width="1.0"/>
<line x1="930.6" y1="157.2" x2="930.6" y2="211.7" stroke="#1a1a1a" stroke-width="1.0"/>
<line x1="1091.8" y1="156.9" x2="1091.8" y2="247.2" stroke="#1a1a1a" stroke-width="1.0"/>
<line x1="811.1" y1="191.9" x2="928.3" y2="191.9" stroke="#1a1a1a" stroke-width="1.0"/>
<polygon points="866.90,191.90 847.90,187.30 847.90,196.50" fill="#000"/>
<polygon points="900.20,191.90 920.00,187.30 920.00,196.50" fill="#000"/>
<line x1="867.3" y1="180" x2="867.3" y2="247.5" stroke="#1a1a1a" stroke-width="1.0"/>
<line x1="1024.5" y1="211" x2="1118.6" y2="211" stroke="#1a1a1a" stroke-width="1.0"/>
<polygon points="1053.50,211.00 1034.50,206.40 1034.50,215.60" fill="#000"/>
<polygon points="1092.00,211.00 1111.00,206.40 1111.00,215.60" fill="#000"/>
<line x1="1053.6" y1="197.8" x2="1053.6" y2="247" stroke="#1a1a1a" stroke-width="1.0"/>
<line x1="724.4" y1="216.3" x2="876.9" y2="216.3" stroke="#1a1a1a" stroke-width="1.0"/>
<line x1="724.3" y1="567.0" x2="876.6" y2="567.0" stroke="#1a1a1a" stroke-width="1.0"/>
<line x1="739.6" y1="217" x2="739.6" y2="566.5" stroke="#1a1a1a" stroke-width="1.0"/>
<polygon points="739.60,216.80 734.90,235.80 744.30,235.80" fill="#000"/>
<polygon points="739.60,566.80 734.90,547.80 744.30,547.80" fill="#000"/>
<line x1="773.1" y1="253.8" x2="862.4" y2="253.8" stroke="#1a1a1a" stroke-width="1.0"/>
<line x1="773.2" y1="529.9" x2="862.1" y2="529.9" stroke="#1a1a1a" stroke-width="1.0"/>
<line x1="783.5" y1="254" x2="783.5" y2="529.5" stroke="#1a1a1a" stroke-width="1.0"/>
<polygon points="783.50,254.50 778.80,273.50 788.20,273.50" fill="#000"/>
<polygon points="783.50,529.60 778.80,510.60 788.20,510.60" fill="#000"/>
<line x1="797.6" y1="605.5" x2="1091" y2="605.5" stroke="#1a1a1a" stroke-width="1.0"/>
<polygon points="838.60,605.50 820.10,600.90 820.10,610.10" fill="#000"/>
<polygon points="867.60,605.50 886.10,600.90 886.10,610.10" fill="#000"/>
<polygon points="1091.00,605.50 1072.00,600.90 1072.00,610.10" fill="#000"/>
<line x1="838.9" y1="431.7" x2="838.9" y2="616" stroke="#1a1a1a" stroke-width="1.0"/>
<line x1="867.1" y1="535.7" x2="867.1" y2="615.5" stroke="#1a1a1a" stroke-width="1.0"/>
<line x1="1091.5" y1="535.8" x2="1091.5" y2="615.5" stroke="#1a1a1a" stroke-width="1.0"/>
<text x="820.2" y="186.8" font-size="21.3" text-anchor="middle" font-weight="normal" fill="#111" textLength="12.7" lengthAdjust="spacingAndGlyphs" stroke="#111" stroke-width="0.25">B</text>
<text x="915" y="158.5" font-size="21.3" text-anchor="middle" font-weight="normal" fill="#111" textLength="13.7" lengthAdjust="spacingAndGlyphs" stroke="#111" stroke-width="0.25">C</text>
<text x="1011.1" y="159.0" font-size="21.3" text-anchor="middle" font-weight="normal" fill="#111" textLength="11.8" lengthAdjust="spacingAndGlyphs" stroke="#111" stroke-width="0.25">E</text>
<text x="1072.4" y="202.4" font-size="21.3" text-anchor="middle" font-weight="normal" fill="#111" textLength="10.6" lengthAdjust="spacingAndGlyphs" stroke="#111" stroke-width="0.25">L</text>
<text x="803.6" y="595.8" font-size="21.3" text-anchor="middle" font-weight="normal" fill="#111" textLength="11.6" lengthAdjust="spacingAndGlyphs" stroke="#111" stroke-width="0.25">F</text>
<text x="978.3" y="595.8" font-size="21.3" text-anchor="middle" font-weight="normal" fill="#111" textLength="12.7" lengthAdjust="spacingAndGlyphs" stroke="#111" stroke-width="0.25">A</text>
<text transform="translate(731.6,411.2) rotate(-90)" font-size="21" text-anchor="start" fill="#111" stroke="#111" stroke-width="0.25" textLength="41" lengthAdjust="spacingAndGlyphs">ØD2</text>
<text transform="translate(775.6,411.2) rotate(-90)" font-size="21" text-anchor="start" fill="#111" stroke="#111" stroke-width="0.25" textLength="38" lengthAdjust="spacingAndGlyphs">ØD1</text>
<path d="M867.2,310.5 A131.6,131.6 0 0 0 867.2,474.3" fill="none" stroke="#1a1a1a" stroke-width="1.1" stroke-dasharray="10,9.5" stroke-dashoffset="4.4"/>
<path d="M873.5,256.3 L880.1,254.2 L897.8,254.2" stroke="#111" stroke-width="1.0" fill="none" />
<path d="M930.3,252.6 L953.6,252.6 L955.5,254.3 L1047.4,254.3" stroke="#111" stroke-width="1.0" fill="none" />
<path d="M1051.6,254.3 L1077.2,254.3 L1083.6,256.3" stroke="#111" stroke-width="1.0" fill="none" />
<path d="M873.3,527.8 L880.2,529.2 L897.8,529.2" stroke="#111" stroke-width="1.0" fill="none" />
<path d="M930.3,531.0 L954,531.0 L955.5,529.6 L1047.4,529.6" stroke="#111" stroke-width="1.0" fill="none" />
<path d="M1051.6,529.6 L1077.2,529.6 L1083.6,527.8" stroke="#111" stroke-width="1.0" fill="none" />
<line x1="867.6" y1="254.8" x2="867.6" y2="529.4" stroke="#8a8a8a" stroke-width="2.2"/>
<rect x="870.4" y="252.5" width="3.1" height="277" fill="#333"/>
<line x1="874.2" y1="256.3" x2="874.2" y2="527.8" stroke="#666" stroke-width="0.8"/>
<line x1="871.9" y1="251.3" x2="871.9" y2="253.5" stroke="#111" stroke-width="1.0"/>
<line x1="871.9" y1="529.5" x2="871.9" y2="531.8" stroke="#111" stroke-width="1.0"/>
<line x1="879.9" y1="254.2" x2="879.9" y2="529.2" stroke="#555" stroke-width="1.0"/>
<line x1="897.8" y1="254.2" x2="897.8" y2="529.2" stroke="#111" stroke-width="1.6"/>
<path d="M900,216.3 L900,566.9 L930.2,566.9 L930.2,216.3" stroke="#111" stroke-width="1.1" fill="none" />
<line x1="900" y1="216.25" x2="933.8" y2="216.25" stroke="#111" stroke-width="1.1"/>
<line x1="900" y1="226.3" x2="930.3" y2="226.3" stroke="#111" stroke-width="1.8"/>
<line x1="900" y1="230.1" x2="926" y2="230.1" stroke="#111" stroke-width="1.0"/>
<path d="M900,218.6 L924.5,218.6 Q926.2,218.6 926.2,220.4 L926.2,226.3" stroke="#111" stroke-width="1.0" fill="none" />
<path d="M926.2,226.3 L926.2,230.5 L930,230.5" stroke="#111" stroke-width="0.9" fill="none" />
<rect x="926.2" y="220" width="3.8" height="5.8" fill="none" stroke="#555" stroke-width="0.7"/>
<rect x="926.2" y="226.8" width="3.8" height="5.6" fill="none" stroke="#555" stroke-width="0.7"/>
<path d="M900,217.3 L884.5,217.3 Q882.5,219.2 884.5,221.2 L900,221.2" stroke="#111" stroke-width="0.9" fill="none" />
<line x1="888" y1="219.2" x2="893.5" y2="219.2" stroke="#333" stroke-width="1.5"/>
<ellipse cx="905.9" cy="225.2" rx="2.6" ry="1.1" fill="none" stroke="#111" stroke-width="0.9"/>
<ellipse cx="905.9" cy="237.9" rx="2.8" ry="1.7" fill="none" stroke="#111" stroke-width="0.9"/>
<ellipse cx="920.0" cy="225.2" rx="2.6" ry="1.1" fill="none" stroke="#111" stroke-width="0.9"/>
<ellipse cx="920.0" cy="237.9" rx="2.8" ry="1.7" fill="none" stroke="#111" stroke-width="0.9"/>
<path d="M900,560 L884.2,560 Q882.4,562.5 884.2,565 L900,565" stroke="#111" stroke-width="0.9" fill="none" />
<line x1="887.5" y1="562.5" x2="893" y2="562.5" stroke="#333" stroke-width="1.5"/>
<path d="M899.8,262.2 L886.2,262.2 Q882.6,262.2 882.6,265.8 L882.6,273.9 Q882.6,277.5 886.2,277.5 L899.8,277.5" stroke="#111" stroke-width="1.1" fill="none" />
<ellipse cx="890.6" cy="269.85" rx="3.7" ry="2.7" fill="none" stroke="#111" stroke-width="1.1"/>
<rect x="899.2" y="266.25" width="1.5" height="7.2" fill="#333"/>
<path d="M899.8,432.6 L886.2,432.6 Q882.6,432.6 882.6,436.20000000000005 L882.6,449.2 Q882.6,452.8 886.2,452.8 L899.8,452.8" stroke="#111" stroke-width="1.1" fill="none" />
<circle cx="890.9" cy="442.70000000000005" r="3.2" fill="none" stroke="#111" stroke-width="1.1"/>
<rect x="899.2" y="439.1" width="1.5" height="7.2" fill="#333"/>
<line x1="954.1" y1="254.3" x2="954.1" y2="530" stroke="#444" stroke-width="1.0"/>
<line x1="1047.6" y1="253.2" x2="1047.6" y2="530.8" stroke="#111" stroke-width="1.1"/>
<line x1="1051.4" y1="253.2" x2="1051.4" y2="530.8" stroke="#111" stroke-width="1.1"/>
<path d="M1047.6,253.6 Q1049.5,250.8 1051.4,253.6" stroke="#111" stroke-width="0.9" fill="none" />
<path d="M1047.6,530.4 Q1049.5,533 1051.4,530.4" stroke="#111" stroke-width="0.9" fill="none" />
<line x1="1077.6" y1="254.3" x2="1077.6" y2="529.6" stroke="#555" stroke-width="1.0"/>
<rect x="1084.3" y="252.4" width="3.3" height="279" fill="#333"/>
<line x1="1091.1" y1="254.5" x2="1091.1" y2="529.5" stroke="#555" stroke-width="1.0"/>
<path d="M1087.6,254.5 Q1089.6,252.8 1091.1,254.5" stroke="#111" stroke-width="0.9" fill="none" />
<line x1="1086.5" y1="251.0" x2="1086.5" y2="253.0" stroke="#111" stroke-width="1.0"/>
<line x1="1086.5" y1="531.0" x2="1086.5" y2="533.0" stroke="#111" stroke-width="1.0"/>
<path d="M1021.7,281 L1021.7,275 Q1021.7,269.5 1027.5,269.5 L1047.5,269.5 Q1052.9,269.5 1052.9,275 L1052.9,281 L1054.7,286 L1054.7,302.4 Q1054.4,307 1048.7,307 L1025.8,307 Q1020.2,307 1019.9,302.4 L1019.9,286 Z" fill="#fff" stroke="none"/>
<path d="M1021.7,285 L1021.7,275 Q1021.7,269.5 1027.5,269.5 L1047.5,269.5 Q1052.9,269.5 1052.9,275 L1052.9,285" stroke="#111" stroke-width="1.3" fill="none" />
<path d="M1021.7,285 Q1021.9,289.8 1027.8,290.1 L1047,290.1 Q1052.7,289.8 1052.9,285" stroke="#111" stroke-width="1.1" fill="none" />
<path d="M1021.7,281 L1019.9,286 L1019.9,302.4 Q1020.2,307 1025.8,307 L1048.7,307 Q1054.4,307 1054.7,302.4 L1054.7,286 L1052.9,281" stroke="#111" stroke-width="1.1" fill="none" />
<line x1="1027.9" y1="290.1" x2="1026.5" y2="306.8" stroke="#111" stroke-width="1.0"/>
<line x1="1045.3" y1="290.1" x2="1047.4" y2="306.8" stroke="#111" stroke-width="1.0"/>
<rect x="1027.9" y="290.1" width="17.4" height="2.2" fill="#888"/>
<rect x="964.5" y="355.6" width="81.3" height="72.7" fill="#fff" stroke="#111" stroke-width="1.1"/>
<line x1="965" y1="360.6" x2="1045.4" y2="360.6" stroke="#111" stroke-width="1.9"/>
<line x1="965" y1="422.9" x2="980.3" y2="422.9" stroke="#333" stroke-width="1.5"/>
<line x1="1032.1" y1="422.9" x2="1045.4" y2="422.9" stroke="#333" stroke-width="1.5"/>
<circle cx="978.4" cy="364.1" r="1.5" fill="#444"/>
<circle cx="1018.5" cy="364.1" r="1.5" fill="#444"/>
<circle cx="1024.5" cy="364.1" r="1.5" fill="#444"/>
<circle cx="1033.4" cy="364.1" r="1.5" fill="#444"/>
<circle cx="1035.5" cy="367.3" r="1.5" fill="#444"/>
<circle cx="1018.1" cy="371.2" r="1.5" fill="#444"/>
<circle cx="1026.6" cy="371.2" r="1.5" fill="#444"/>
<circle cx="1039.4" cy="403.2" r="1.5" fill="#444"/>
<circle cx="978.2" cy="404.5" r="1.5" fill="#444"/>
<circle cx="978.2" cy="419.3" r="1.5" fill="#444"/>
<path d="M978.6,380.3 L989.4,377.3 L989.4,375.5 L1022.6,375.5 L1022.6,377.3 L1033.2,380.3 L1033.2,404 L1032.1,410 L1032.1,478.6 L980.3,478.6 L980.3,410 L978.6,404 Z" fill="#fff" stroke="#111" stroke-width="1.2"/>
<line x1="989.4" y1="375.5" x2="989.4" y2="479" stroke="#111" stroke-width="1.2"/>
<line x1="1022.6" y1="375.5" x2="1022.6" y2="479" stroke="#111" stroke-width="1.2"/>
<path d="M980.3,479.2 L980.3,484 Q980.3,485.6 982,485.6 L1030.4,485.6 Q1032.1,485.6 1032.1,484 L1032.1,479.2" stroke="#111" stroke-width="1.0" fill="none" />
<path d="M999.1,485.6 L999.1,486.5 Q999.1,487.3 1000,487.3 L1012.1,487.3 Q1013,487.3 1013,486.5 L1013,485.6" stroke="#111" stroke-width="1.0" fill="none" />
<line x1="998.8" y1="479.2" x2="998.8" y2="485.6" stroke="#111" stroke-width="0.9"/>
<line x1="1013.3" y1="479.2" x2="1013.3" y2="485.6" stroke="#111" stroke-width="0.9"/>
<circle cx="1006.1" cy="391.8" r="10.5" fill="none" stroke="#111" stroke-width="2.2"/>
<circle cx="1006.1" cy="391.8" r="8.4" fill="none" stroke="#111" stroke-width="0.9"/>
<polygon points="1011.50,391.80 1010.07,393.45 1009.92,395.62 1007.75,395.77 1006.10,397.20 1004.45,395.77 1002.28,395.62 1002.13,393.45 1000.70,391.80 1002.13,390.15 1002.28,387.98 1004.45,387.83 1006.10,386.40 1007.75,387.83 1009.92,387.98 1010.07,390.15" fill="none" stroke="#111" stroke-width="1.8"/>
<circle cx="1006.1" cy="391.8" r="1.8" fill="none" stroke="#111" stroke-width="0.8"/>
<path d="M1033.2,384.7 L1036.8,384.7 A6.75,6.75 0 0 1 1036.8,398.2 L1033.2,398.2" stroke="#111" stroke-width="1.1" fill="none" />
<circle cx="984.4" cy="409.3" r="5.3" fill="#222"/>
<circle cx="984.4" cy="408.8" r="2.2" fill="#fff"/>
<circle cx="1027.3" cy="409.3" r="5.3" fill="#222"/>
<circle cx="1027.3" cy="408.8" r="2.2" fill="#fff"/>
<circle cx="985.4" cy="427.8" r="3.6" fill="none" stroke="#111" stroke-width="1.2"/>
<circle cx="985.4" cy="427.8" r="1.3" fill="none" stroke="#111" stroke-width="0.8"/>
<path d="M982,423 L989.4,422 M982.8,442 L989.4,443.5 M982.5,431.5 L982.8,439.5 L987.8,440 L988.6,432" stroke="#111" stroke-width="1.0" fill="none" />
<line x1="982.5" y1="384" x2="982.5" y2="478" stroke="#555" stroke-width="0.8"/>
<line x1="1030" y1="384" x2="1030" y2="478" stroke="#777" stroke-width="0.8"/>
<circle cx="1021.7" cy="455.3" r="4.2" fill="#fff" stroke="#111" stroke-width="1.3"/>
<circle cx="1021.7" cy="455.3" r="2.3" fill="none" stroke="#111" stroke-width="0.8"/>
</g>
</svg></body></html>
